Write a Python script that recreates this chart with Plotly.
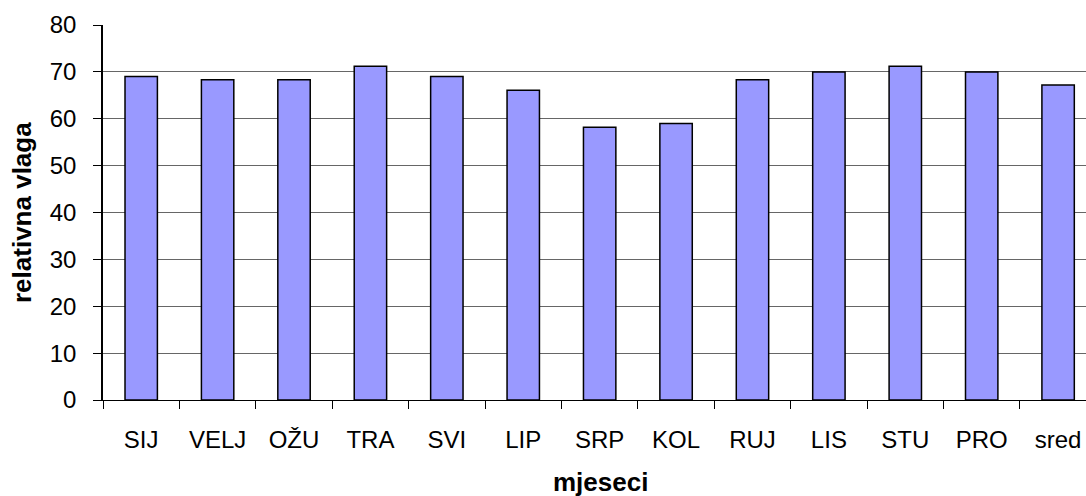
import plotly.graph_objects as go

months = ["SIJ", "VELJ", "OŽU", "TRA", "SVI", "LIP", "SRP", "KOL", "RUJ", "LIS", "STU", "PRO", "sred"]
humidity = [69, 68.3, 68.3, 71.2, 69, 66.1, 58.2, 59, 68.3, 70, 71.2, 70, 67.2]
y_ticks = [0, 10, 20, 30, 40, 50, 60, 70, 80]

font = "Liberation Sans, Arial, sans-serif"
W, H = 1086, 496
L, T, B = 102.5, 24.5, 96
plot_h = H - T - B

fig = go.Figure(go.Bar(
    x=months, y=humidity,
    marker=dict(color="#9999FF", line=dict(color="#000000", width=1.5)),
    width=0.424,
))

fig.update_layout(
    width=W, height=H,
    margin=dict(l=L, r=0, t=T, b=B, pad=0),
    paper_bgcolor="white", plot_bgcolor="white",
    showlegend=False,
    font=dict(family=font, size=24, color="#000"),
    xaxis=dict(
        type="category",
        range=[-0.5, 12.365],
        tickson="boundaries",
        ticks="outside", ticklen=8, tickcolor="#000", tickwidth=1,
        showline=True, linecolor="#000", linewidth=1,
        showgrid=False,
        ticklabelstandoff=18,
        tickfont=dict(size=24, family=font),
    ),
    yaxis=dict(
        range=[0, 80],
        tickvals=y_ticks,
        ticks="outside", ticklen=8, tickcolor="#000", tickwidth=1,
        showline=True, linecolor="#000", linewidth=1.5,
        showgrid=True, gridcolor="#666666", gridwidth=1,
        zeroline=False,
        ticklabelstandoff=12,
        tickfont=dict(size=24, family=font),
    ),
    annotations=[
        dict(text="<b>mjeseci</b>", x=(600 - L) / (W - L), y=-(482 - (H - B)) / plot_h,
             xref="paper", yref="paper",
             xanchor="center", yanchor="middle", showarrow=False,
             font=dict(size=26, family=font)),
        dict(text="<b>relativna vlaga</b>", x=0, y=0.5, xref="paper", yref="paper",
             xanchor="center", yanchor="middle", showarrow=False, textangle=-90,
             font=dict(size=26, family=font), xshift=21 - L),
    ],
)

fig.write_html("out.html", config={"displayModeBar": False},
               post_script="document.body.style.margin='0';document.body.style.overflow='hidden';")
